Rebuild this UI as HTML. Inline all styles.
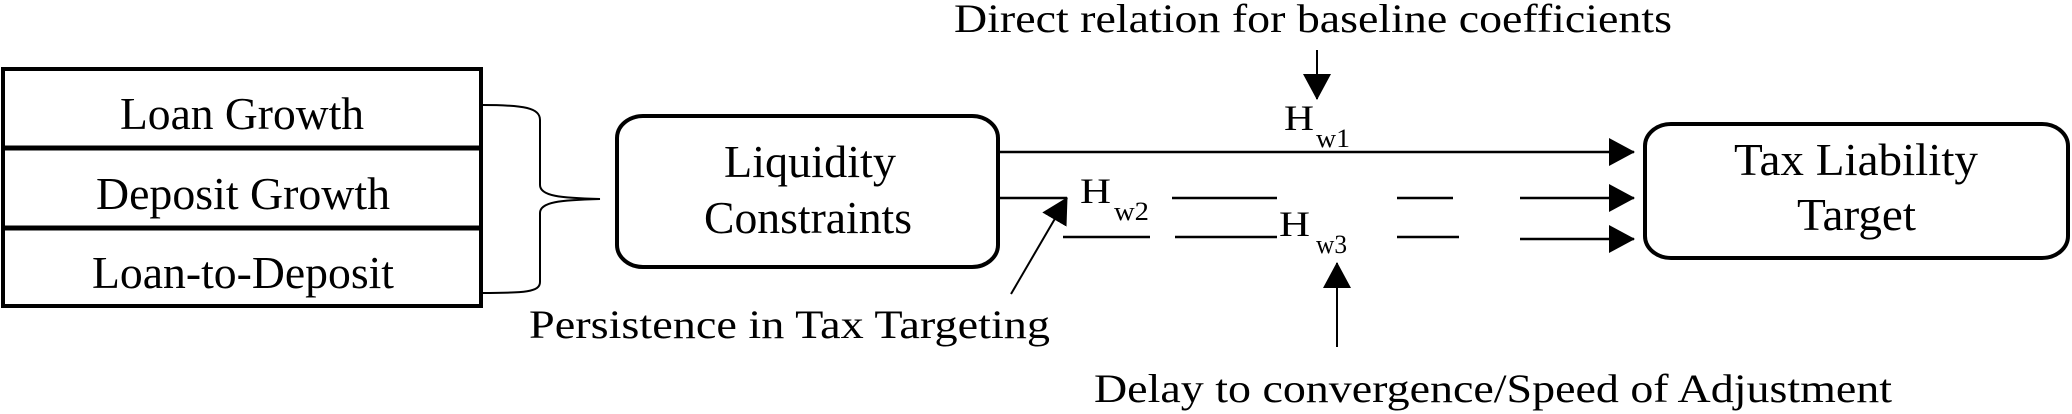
<!DOCTYPE html>
<html><head><meta charset="utf-8"><style>
html,body{margin:0;padding:0;background:#fff;}
svg{display:block;}
text{font-family:"Liberation Serif",serif;fill:#000;}
</style></head><body>
<svg width="2072" height="414" viewBox="0 0 2072 414" xmlns="http://www.w3.org/2000/svg">
<defs>
<marker id="ah" markerWidth="26" markerHeight="28" refX="25" refY="14" orient="auto" markerUnits="userSpaceOnUse">
<path d="M0,0 L26,14 L0,28 Z" fill="#000"/>
</marker>
</defs>
<text x="954" y="32" font-size="40" textLength="718" lengthAdjust="spacingAndGlyphs">Direct relation for baseline coefficients</text>
<line x1="1317" y1="50" x2="1317" y2="99" stroke="#000" stroke-width="2" marker-end="url(#ah)"/>

<rect x="3" y="69" width="478" height="237" fill="none" stroke="#000" stroke-width="4"/>
<line x1="3" y1="148" x2="481" y2="148" stroke="#000" stroke-width="5"/>
<line x1="3" y1="228" x2="481" y2="228" stroke="#000" stroke-width="5"/>
<text x="120" y="129" font-size="46" textLength="244" lengthAdjust="spacingAndGlyphs">Loan Growth</text>
<text x="96" y="209" font-size="46" textLength="294" lengthAdjust="spacingAndGlyphs">Deposit Growth</text>
<text x="92" y="288" font-size="46" textLength="302" lengthAdjust="spacingAndGlyphs">Loan-to-Deposit</text>

<path d="M482,105 C525,105 540,108 540,120 L540,185 C540,196 560,198 600,199 C560,200 540,202 540,213 L540,282 C540,292 525,293 482,293" fill="none" stroke="#000" stroke-width="2"/>

<rect x="617" y="116" width="381" height="151" rx="26" ry="22" fill="none" stroke="#000" stroke-width="4"/>
<text x="724" y="177" font-size="46" textLength="172" lengthAdjust="spacingAndGlyphs">Liquidity</text>
<text x="704" y="233" font-size="46" textLength="208" lengthAdjust="spacingAndGlyphs">Constraints</text>

<rect x="1645" y="124" width="423" height="134" rx="26" ry="22" fill="none" stroke="#000" stroke-width="4"/>
<text x="1734" y="175" font-size="46" textLength="244" lengthAdjust="spacingAndGlyphs">Tax Liability</text>
<text x="1797" y="230" font-size="46" textLength="119" lengthAdjust="spacingAndGlyphs">Target</text>

<line x1="998" y1="152" x2="1634" y2="152" stroke="#000" stroke-width="2.5" marker-end="url(#ah)"/>
<text x="1284" y="130" font-size="36" textLength="30" lengthAdjust="spacingAndGlyphs">H</text>
<text x="1316" y="147" font-size="26" textLength="34" lengthAdjust="spacingAndGlyphs">w1</text>

<line x1="998" y1="198" x2="1067" y2="198" stroke="#000" stroke-width="2.5"/>
<text x="1080" y="203" font-size="36" textLength="31" lengthAdjust="spacingAndGlyphs">H</text>
<text x="1114" y="220" font-size="26" textLength="35" lengthAdjust="spacingAndGlyphs">w2</text>
<line x1="1172" y1="198" x2="1277" y2="198" stroke="#000" stroke-width="2.5"/>
<line x1="1397" y1="198" x2="1453" y2="198" stroke="#000" stroke-width="2.5"/>
<line x1="1520" y1="198" x2="1634" y2="198" stroke="#000" stroke-width="2.5" marker-end="url(#ah)"/>

<line x1="1063" y1="237" x2="1150" y2="237" stroke="#000" stroke-width="2.5"/>
<line x1="1175" y1="237" x2="1277" y2="237" stroke="#000" stroke-width="2.5"/>
<line x1="1397" y1="237" x2="1459" y2="237" stroke="#000" stroke-width="2.5"/>
<line x1="1520" y1="239" x2="1634" y2="239" stroke="#000" stroke-width="2.5" marker-end="url(#ah)"/>
<text x="1279" y="236" font-size="36" textLength="31" lengthAdjust="spacingAndGlyphs">H</text>
<text x="1316" y="253" font-size="26" textLength="31" lengthAdjust="spacingAndGlyphs">w3</text>

<line x1="1011" y1="294" x2="1067" y2="198" stroke="#000" stroke-width="2" marker-end="url(#ah)"/>
<text x="529" y="338" font-size="40" textLength="521" lengthAdjust="spacingAndGlyphs">Persistence in Tax Targeting</text>

<line x1="1337" y1="347" x2="1337" y2="263" stroke="#000" stroke-width="2" marker-end="url(#ah)"/>
<text x="1094" y="402" font-size="40" textLength="798" lengthAdjust="spacingAndGlyphs">Delay to convergence/Speed of Adjustment</text>
</svg>
</body></html>
